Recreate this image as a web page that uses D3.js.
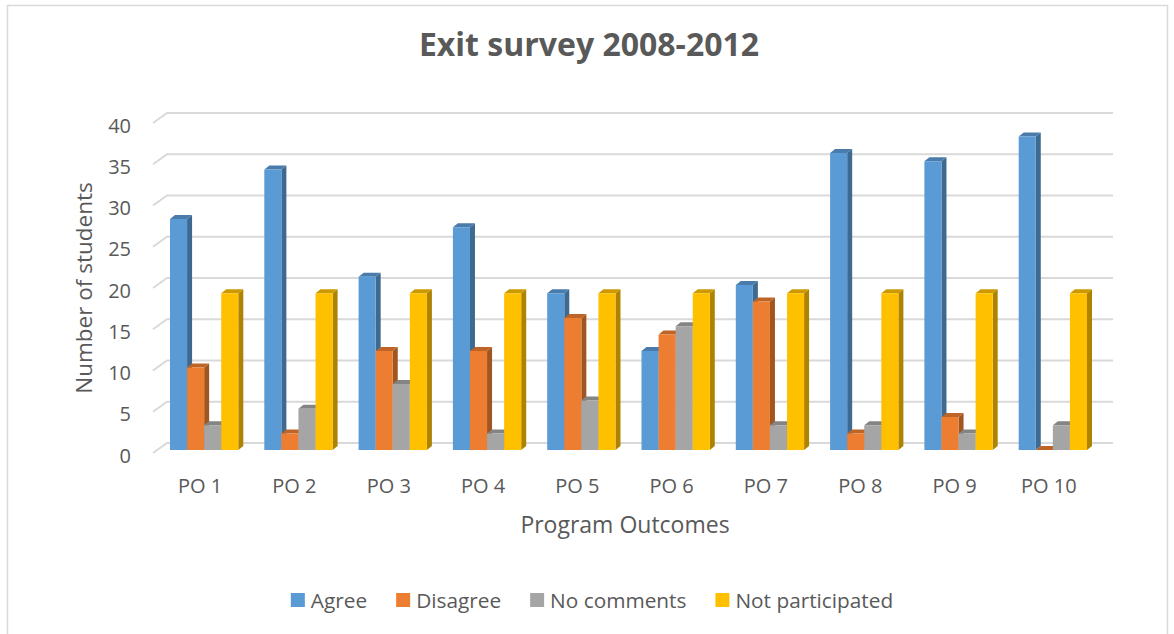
<!DOCTYPE html>
<html>
<head>
<meta charset="utf-8">
<script src="https://cdn.jsdelivr.net/npm/d3@7"></script>
<style>
  body { margin: 0; background: #fff; }
  text { font-family: "Open Sans", sans-serif; fill: #595959; }
</style>
</head>
<body>
<div id="chart"></div>
<script>
(function() {

// chart data
const categories = ["PO 1", "PO 2", "PO 3", "PO 4", "PO 5", "PO 6", "PO 7", "PO 8", "PO 9", "PO 10"];
const seriesNames = ["Agree", "Disagree", "No comments", "Not participated"];
const agree = [28, 34, 21, 27, 19, 12, 20, 36, 35, 38];
const disagree = [10, 2, 12, 12, 16, 14, 18, 2, 4, 0];
const noComments = [3, 5, 8, 2, 6, 15, 3, 3, 2, 3];
const notParticipated = [19, 19, 19, 19, 19, 19, 19, 19, 19, 19];
const yTicks = [0, 5, 10, 15, 20, 25, 30, 35, 40];
const colors = ["#5b9bd5", "#ed7d31", "#a5a5a5", "#ffc000"];

const seriesValues = [agree, disagree, noComments, notParticipated];

const W = 1174, H = 634;

// 3d offsets: wall depth and bar depth
const wallDX = 14, wallDY = 10;
const barShiftX = 4, barShiftY = 3;
const barDX = 5, barDY = 4;

const svg = d3.select("#chart")
  .append("svg")
  .attr("width", W)
  .attr("height", H);

// chart border
svg.append("rect")
  .attr("x", 7.5).attr("y", 5.5)
  .attr("width", 1160).attr("height", 640)
  .attr("fill", "#fff")
  .attr("stroke", "#d9d9d9")
  .attr("stroke-width", 1.5);

// scales (front plane)
const x = d3.scaleBand()
  .domain(categories)
  .range([153, 1096])
  .paddingInner(0.2757)
  .paddingOuter(0.1379);

const xs = d3.scaleBand()
  .domain(seriesNames)
  .range([0, x.bandwidth()]);

const y = d3.scaleLinear()
  .domain([0, 40])
  .range([453, 123]);

// gridlines: side wall + back wall
const grid = svg.append("g");
yTicks.forEach(t => {
  const yy = y(t);
  grid.append("path")
    .attr("d", `M153,${yy} L${153 + wallDX},${yy - wallDY} L${1096 + wallDX + 3},${yy - wallDY}`)
    .attr("fill", "none")
    .attr("stroke", "#d9d9d9")
    .attr("stroke-width", 2);
});

// y tick labels
svg.append("g")
  .selectAll("text")
  .data(yTicks)
  .join("text")
  .attr("x", 131)
  .attr("y", d => y(d) + 2)
  .attr("text-anchor", "end")
  .attr("dominant-baseline", "central")
  .style("font-size", "20px")
  .text(d => d);

// x category labels
svg.append("g")
  .selectAll("text")
  .data(categories)
  .join("text")
  .attr("x", d => x(d) - x.step() * x.paddingOuter() + x.step() / 2)
  .attr("y", 492.5)
  .attr("text-anchor", "middle")
  .style("font-size", "20px")
  .text(d => d);

// bars, drawn left to right so each bar covers its neighbour's side face
const shade = (c, k) => {
  const r = d3.rgb(c);
  return d3.rgb(r.r * k, r.g * k, r.b * k).formatHex();
};

const bars = svg.append("g");
categories.forEach((cat, i) => {
  seriesNames.forEach((s, j) => {
    const v = seriesValues[j][i];
    const x0 = x(cat) + xs(s) + barShiftX;
    const w = xs.bandwidth();
    const yb = y(0) - barShiftY;
    const yt = y(v) - barShiftY;
    const g = bars.append("g");
    g.append("path")
      .attr("d", `M${x0 + w},${yt} L${x0 + w + barDX},${yt - barDY} L${x0 + w + barDX},${yb - barDY} L${x0 + w},${yb} Z`)
      .attr("fill", shade(colors[j], 0.68));
    g.append("path")
      .attr("d", `M${x0},${yt} L${x0 + barDX},${yt - barDY} L${x0 + w + barDX},${yt - barDY} L${x0 + w},${yt} Z`)
      .attr("fill", shade(colors[j], 0.8));
    g.append("rect")
      .attr("x", x0)
      .attr("y", yt)
      .attr("width", w)
      .attr("height", yb - yt)
      .attr("fill", colors[j]);
  });
});

// title
svg.append("text")
  .attr("x", 589)
  .attr("y", 56)
  .attr("text-anchor", "middle")
  .style("font-size", "32px")
  .style("font-weight", "bold")
  .text("Exit survey 2008-2012");

// axis titles
svg.append("text")
  .attr("transform", "translate(83,288) rotate(-90)")
  .attr("text-anchor", "middle")
  .attr("dominant-baseline", "central")
  .style("font-size", "22.5px")
  .text("Number of students");

svg.append("text")
  .attr("x", 625)
  .attr("y", 533)
  .attr("text-anchor", "middle")
  .style("font-size", "23px")
  .text("Program Outcomes");

// legend
const legend = svg.append("g");
let lx = 0;
seriesNames.forEach((s, j) => {
  const item = legend.append("g").attr("transform", `translate(${lx},0)`);
  item.append("rect")
    .attr("x", 0).attr("y", -7)
    .attr("width", 14).attr("height", 14)
    .attr("fill", colors[j]);
  const t = item.append("text")
    .attr("x", 20)
    .attr("y", 0)
    .attr("dominant-baseline", "central")
    .style("font-size", "20.8px")
    .text(s);
  lx += 20 + t.node().getComputedTextLength() + 29;
});
const legendW = lx - 29;
legend.attr("transform", `translate(${592 - legendW / 2},600)`);

})();
</script>
</body>
</html>
